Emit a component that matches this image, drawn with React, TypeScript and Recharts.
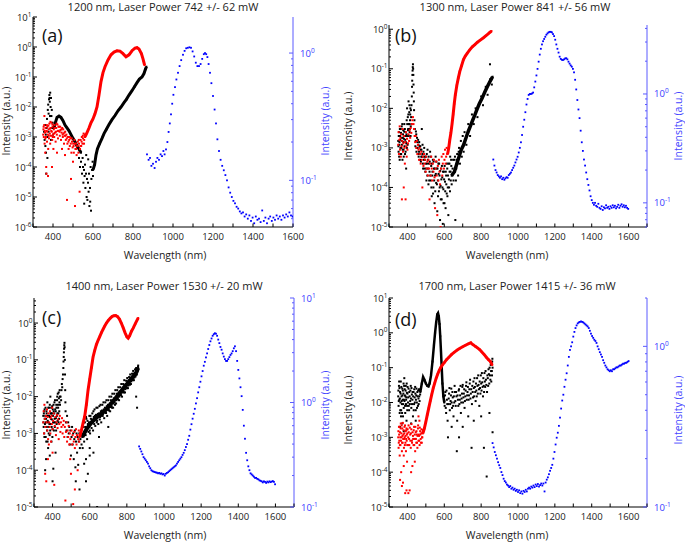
import React from 'react';
import { ScatterChart, Scatter, XAxis, YAxis } from 'recharts';

type Pt = [number, number];

// ---------- panel (a) 1200 nm ----------
const aBlackNoise: Pt[] = [
  [355,1.5e-3],[358,8e-4],[360,2.5e-3],[362,5e-4],[364,1.2e-3],[366,6e-5],[368,2e-3],[370,4e-3],[372,1e-3],[374,8e-3],
  [376,1.2e-2],[378,6e-3],[380,1.8e-2],[382,2.5e-2],[384,1.5e-2],[386,3e-2],[388,1e-2],[390,2e-2],[392,5e-3],[394,8e-3],
  [396,2e-3],[398,3e-3],[400,1.2e-3],[402,2e-3],[365,3e-4],[372,2e-4],[385,5e-3],[390,8e-4],[378,1.5e-3],[383,2e-2],
  [530,2e-4],[535,1e-4],[540,1.5e-4],[545,6e-5],[548,2e-4],[550,1e-4],[552,3e-5],[555,8e-5],[558,5e-5],[560,1.2e-4],
  [562,2e-5],[565,6e-5],[568,1e-5],[570,4e-5],[572,8e-6],[575,3e-5],[578,1.5e-5],[580,6e-5],[582,5e-6],[585,2e-5],
  [588,1e-4],[590,3.5e-6],[592,4e-5],[595,8e-5],[598,1.5e-4],[600,5e-5],[556,6e-6],[566,2.5e-4],[576,1.8e-4],[586,7e-6],
];
const aBlackCurve: Pt[] = [
  [405,2e-3],[412,3e-3],[420,4.5e-3],[430,5e-3],[440,4.5e-3],[450,3.5e-3],[460,2.5e-3],[470,2e-3],[480,1.6e-3],[490,1.2e-3],
  [500,9e-4],[510,7e-4],[520,5e-4],[530,4e-4],[540,3e-4],
];
const aBlackRise: Pt[] = [
  [600,8e-5],[608,1.2e-4],[615,2.5e-4],[622,4e-4],[633,6e-4],[645,9e-4],[655,1.3e-3],[667,1.8e-3],[680,2.6e-3],[695,3.8e-3],
  [710,5.2e-3],[725,7.5e-3],[740,1e-2],[755,1.4e-2],[767,1.8e-2],[780,2.5e-2],[795,3.5e-2],[808,4.8e-2],[820,6.5e-2],[832,8.5e-2],
  [845,0.1],[855,0.13],[862,0.18],[867,0.22],
];
const aRedNoise: Pt[] = [
  [352,1.8e-3],[354,1e-3],[356,2.5e-3],[357,5e-3],[358,6e-4],[360,1.4e-3],[361,3e-4],[363,2e-3],[365,1e-3],[366,1e-4],
  [368,1.6e-3],[370,7e-4],[372,2.2e-3],[374,1.2e-3],[376,4e-4],[378,1.8e-3],[380,9e-4],[382,2.8e-3],[384,1.3e-3],[386,6e-4],
  [388,2e-3],[390,1.1e-3],[392,3e-3],[394,1.5e-3],[396,8e-4],[398,2.2e-3],[400,1.2e-3],[402,4e-4],[404,1.8e-3],[406,1e-3],
  [408,2.5e-3],[410,1.4e-3],[413,7e-4],[416,2e-3],[419,1.2e-3],[422,2.6e-3],[425,9e-4],[428,1.6e-3],[431,2.2e-3],[434,1.1e-3],
  [437,1.7e-3],[440,8e-4],[443,1.4e-3],[446,2e-3],[449,1e-3],[452,1.3e-3],[455,6e-4],[458,1.1e-3],[461,1.5e-3],[464,8e-4],
  [467,1.2e-3],[470,8e-6],[472,6e-4],[475,1e-3],[478,4e-4],[481,8e-4],[484,5e-4],[487,9e-4],[490,4e-5],[492,3e-4],
  [495,7e-4],[498,4.5e-4],[501,6e-4],[504,3e-4],[507,8e-4],[510,5e-6],[512,4e-4],[515,6e-4],[518,2.5e-4],[521,5e-4],
  [524,7e-4],[527,3e-4],[530,6e-4],[533,1.5e-5],[535,4e-4],[538,8e-4],[541,5e-4],[544,1e-3],[547,6e-4],[550,9e-4],
  [553,1.3e-3],[556,8e-4],[559,1.2e-3],[375,5e-5],[395,1e-4],[420,3e-4],[445,4e-4],[460,2.5e-4],[500,1.5e-4],[367,6e-5],
  [351,1.2e-3],[353,2.2e-3],[359,1.6e-3],[362,9e-4],[369,2.5e-3],[371,1.5e-3],[377,2.4e-3],[379,1.1e-3],[385,1.9e-3],[387,3.2e-3],
  [391,1.6e-3],[397,2.6e-3],[399,1e-3],[405,1.3e-3],[409,2e-3],[415,1.5e-3],[418,2.8e-3],[424,1.6e-3],[427,2.2e-3],[433,1.5e-3],
  [436,2.2e-3],[442,1.8e-3],[448,1.2e-3],[451,1.8e-3],[457,1.4e-3],[463,1.1e-3],[469,9e-4],[477,7e-4],[483,1e-3],[489,6e-4],
  [494,9e-4],[503,5e-4],[509,6e-4],[516,4e-4],[523,5e-4],[529,8e-4],[537,5e-4],[543,7e-4],[549,1.1e-3],[555,6e-4],
];
const aRedCurve: Pt[] = [
  [560,1e-3],[570,1.4e-3],[580,2e-3],[590,3e-3],[600,4e-3],[610,6e-3],[620,1e-2],[630,2.5e-2],[640,7e-2],[650,0.14],
  [660,0.22],[675,0.37],[690,0.55],[705,0.68],[720,0.75],[735,0.73],[750,0.6],[765,0.47],[780,0.55],[795,0.75],
  [810,0.92],[820,0.95],[830,0.85],[842,0.6],[850,0.4],[858,0.25],
];
const aBlue: Pt[] = [
  [870,0.16],[878,0.145],[885,0.15],[892,0.13],[900,0.135],[908,0.125],[915,0.14],[922,0.15],[930,0.145],[938,0.16],
  [945,0.155],[952,0.17],[958,0.16],[965,0.175],[972,0.2],[978,0.24],[984,0.28],[990,0.33],[996,0.4],[1002,0.47],
  [1010,0.54],[1017,0.62],[1025,0.7],[1033,0.79],[1041,0.88],[1050,0.97],[1058,1.04],[1066,1.09],[1074,1.1],[1082,1.11],
  [1090,1.1],[1098,1.03],[1106,0.94],[1114,0.84],[1122,0.79],[1130,0.79],[1138,0.82],[1146,0.9],[1154,0.98],[1160,1.0],
  [1166,0.98],[1172,0.93],[1178,0.82],[1185,0.7],[1192,0.58],[1200,0.46],[1208,0.36],[1215,0.28],[1222,0.21],[1230,0.17],
  [1238,0.145],[1246,0.13],[1254,0.12],[1262,0.11],[1270,0.1],[1278,0.088],[1286,0.08],[1294,0.074],[1302,0.069],[1310,0.066],
  [1318,0.062],[1326,0.06],[1334,0.057],[1342,0.055],[1350,0.056],[1358,0.052],[1366,0.054],[1374,0.05],[1382,0.053],[1390,0.048],
  [1398,0.051],[1406,0.046],[1414,0.052],[1422,0.049],[1430,0.05],[1438,0.047],[1446,0.058],[1454,0.048],[1462,0.051],[1470,0.046],
  [1478,0.05],[1486,0.052],[1494,0.048],[1502,0.051],[1510,0.049],[1518,0.053],[1526,0.05],[1534,0.052],[1542,0.049],[1550,0.053],
  [1558,0.051],[1566,0.054],[1574,0.052],[1582,0.056],[1590,0.053],[1598,0.052],
];

// ---------- panel (b) 1300 nm ----------
const bBlackNoise: Pt[] = [
  [350,1.5e-3],[352,8e-4],[354,2.5e-3],[356,1.2e-3],[358,5e-4],[360,2e-3],[362,1e-3],[364,3e-3],[366,7e-4],[368,1.8e-3],
  [370,1.2e-3],[372,4e-3],[374,9e-4],[376,2.2e-3],[378,1.4e-3],[380,6e-4],[382,2.6e-3],[384,1.1e-3],[386,3e-3],[388,1.6e-3],
  [390,8e-4],[392,2e-3],[394,1.3e-3],[396,5e-3],[398,1e-2],[400,2e-3],[402,6e-3],[404,3e-3],[406,1.5e-2],[408,4e-3],
  [410,8e-3],[412,2.5e-3],[414,5e-3],[416,1e-2],[418,3.5e-3],[420,6e-3],[422,1.2e-2],
  [424,2e-2],[425,3.5e-2],[426,5e-2],[427,7e-2],[428,9e-2],[429,0.11],[430,0.13],[431,0.1],[432,7e-2],[433,4e-2],
  [434,2.5e-2],[435,1.5e-2],[436,9e-3],[438,5e-3],[440,3e-3],
  [442,2e-3],[445,1.5e-3],[448,2.2e-3],[451,1e-3],[454,1.4e-3],[457,7e-4],[460,1.2e-3],[463,8e-4],[466,1.1e-3],[469,5e-4],
  [472,9e-4],[475,6e-4],[478,3e-3],[481,7e-4],[484,4e-4],[487,8e-4],[490,5e-4],[493,3e-4],[496,6e-4],[499,4e-4],
  [502,3e-4],[505,7e-4],[508,2e-4],[511,5e-4],[514,1.2e-4],[517,4e-4],[520,2.5e-4],[523,8e-4],[526,1.5e-4],[529,3.5e-4],
  [532,6e-5],[535,2e-4],[538,5e-4],[541,1e-4],[544,3e-4],[547,4e-5],[550,2e-4],[553,6e-4],[556,1.3e-4],[559,3e-4],
  [562,2.5e-5],[565,1.5e-4],[568,4e-4],[571,8e-5],[574,2e-4],[577,1.5e-5],[580,1.1e-4],[583,3e-4],[586,5e-5],[589,1.8e-4],
  [592,1.2e-5],[595,9e-5],[598,2.5e-4],[601,4e-5],[604,1.4e-4],[607,3e-5],[610,2e-4],[613,7e-5],[616,3e-4],[619,1e-4],
  [622,2e-5],[625,1.6e-4],[628,4e-4],[631,8e-5],[634,2.5e-4],[637,5e-4],[640,1.2e-4],[645,3e-4],[650,1.5e-4],[655,5e-4],
  [660,1.5e-5],[665,3e-4],[670,7e-4],[675,2e-4],[680,1e-3],[685,4e-4],[690,1.5e-3],[695,6e-4],[700,2e-3],[705,8e-4],
  [710,2.5e-3],[720,1.2e-3],[730,4e-3],[740,2e-3],[750,7e-3],[760,4e-3],[770,1e-2],[780,6e-3],[800,2e-2],[810,1.2e-2],
  [825,3.5e-2],[835,2.2e-2],[848,0.13],[850,5.5e-2],[858,4e-2],
  [351,1.1e-3],[353,2e-3],[355,6e-4],[357,1.4e-3],[359,3e-3],[361,1.6e-3],[363,7e-4],[365,2.4e-3],[367,1e-3],[369,3.5e-3],
  [371,1.5e-3],[373,5e-4],[375,1.8e-3],[377,2.8e-3],[379,9e-4],[381,1.7e-3],[383,4e-3],[385,2e-3],[387,7e-4],[389,2.5e-3],
  [391,1.4e-3],[393,3e-4],[395,2.2e-3],[397,1e-3],[399,4e-3],[401,1.2e-3],[403,2.8e-3],[405,7e-3],[407,2e-3],[409,4e-3],
  [411,1.2e-2],[413,3e-3],[415,7e-3],[417,2e-3],[419,9e-3],[421,4e-3],
  [443,1.1e-3],[446,2.6e-3],[449,8e-4],[452,1.8e-3],[455,1e-3],[458,1.6e-3],[461,6e-4],[464,1.4e-3],[467,7e-4],[470,1.1e-3],
  [473,4.5e-4],[476,9e-4],[479,6e-4],[482,1.2e-3],[485,3e-4],[488,6e-4],[491,1e-3],[494,5e-4],[497,2.5e-4],[500,6e-4],
  [503,1.5e-4],[506,4e-4],[509,9e-4],[512,3e-4],[515,6e-4],[518,1.5e-4],[521,4.5e-4],[524,2e-4],[527,6e-4],[530,1e-4],
  [533,4e-4],[536,2.5e-4],[539,7e-5],[542,4.5e-4],[545,1.5e-4],[548,3e-4],[551,8e-5],[554,2.2e-4],[557,4.5e-4],[560,1.2e-4],
  [563,3e-4],[566,6e-5],[569,2.2e-4],[572,4e-4],[575,1e-4],[578,2.6e-4],[581,5e-5],[584,1.6e-4],[587,3.5e-4],[590,1e-4],
  [593,2.5e-4],[596,4e-5],[599,1.6e-4],[602,3.5e-4],[605,8e-5],[608,2.5e-4],[611,1.2e-4],[614,4e-4],[617,6e-5],[620,2e-4],
  [623,4e-4],[626,1e-4],[629,2.5e-4],[632,6e-4],[635,1.5e-4],[638,3.5e-4],[643,2e-4],[648,5e-4],[653,2.5e-4],[658,6e-4],
  [663,1.5e-4],[668,5e-4],[673,4e-4],[678,8e-4],
];
const bBlackCurve: Pt[] = [
  [640,2e-4],[655,2.5e-4],[668,4e-4],[680,6e-4],[692,9e-4],[705,1.2e-3],[718,1.8e-3],[730,2.6e-3],[742,3.6e-3],[754,5e-3],
  [766,6.8e-3],[778,9.5e-3],[790,1.3e-2],[805,1.8e-2],[820,2.6e-2],[832,3.4e-2],[845,4.5e-2],[855,5.5e-2],[862,6.3e-2],
];
const bRedNoise: Pt[] = [
  [350,1.2e-3],[352,2.5e-3],[354,7e-4],[356,1.6e-3],[358,3.5e-3],[360,9e-4],[362,1.8e-3],[364,6e-4],[366,2.2e-3],[368,1.1e-3],
  [370,5e-5],[372,1.5e-3],[374,3e-3],[376,8e-4],[378,1.3e-3],[380,1e-4],[382,2e-3],[384,1e-3],[386,4e-4],[388,1.4e-3],
  [390,5e-5],[392,2.5e-3],[394,1.1e-3],[396,6e-4],[398,1.7e-3],[400,9e-4],[403,1.3e-3],[406,2.2e-3],[409,1.5e-3],[412,2.8e-3],
  [415,1.8e-3],[418,3.2e-3],[421,2.4e-3],[424,4e-3],[427,5e-3],[430,6e-3],[433,4e-3],[436,3e-3],[439,2e-3],[442,1.4e-3],
  [445,2e-3],[448,1e-3],[451,1.5e-3],[454,7e-4],[457,1.2e-3],[460,9e-4],[463,5e-4],[466,1e-3],[469,7e-4],[472,4e-4],
  [475,8e-4],[478,5e-4],[481,1e-4],[484,6e-4],[487,3.5e-4],[490,7e-4],[493,4e-4],[496,5e-4],[499,2.5e-4],[502,6e-4],
  [505,3e-4],[508,4.5e-4],[511,2e-4],[514,5e-4],[517,3e-4],[520,5e-5],[523,4e-4],[526,2e-4],[529,6e-4],[532,3e-4],
  [535,1.5e-4],[538,4e-4],[541,2.5e-4],[544,5e-4],[547,1.8e-4],[550,3e-5],[553,3e-4],[556,4.5e-4],[559,2e-4],[562,2e-5],
  [565,3.5e-4],[568,1.5e-4],[571,5e-4],[574,2.5e-4],[577,1.2e-4],[580,1e-5],[583,3e-4],[586,6e-4],[589,2e-4],[592,4e-4],
  [595,7e-4],[598,3e-4],[601,5e-4],[604,9e-4],[607,4e-4],[610,6e-4],[613,1e-3],[616,7e-4],
];
const bRedCurve: Pt[] = [
  [618,7e-4],[624,1e-3],[630,1.6e-3],[636,2.4e-3],[642,4e-3],[648,7e-3],[654,1.3e-2],[660,2.2e-2],[668,3.8e-2],[676,5.8e-2],
  [684,8.5e-2],[694,0.12],[704,0.17],[714,0.21],[725,0.25],[738,0.3],[752,0.36],[766,0.41],[780,0.47],[795,0.53],
  [811,0.6],[825,0.68],[838,0.76],[848,0.84],[856,0.9],
];
const bBlue: Pt[] = [
  [866,0.25],[872,0.22],[878,0.2],[884,0.19],[890,0.18],[896,0.175],[902,0.17],[908,0.175],[914,0.165],[920,0.17],
  [926,0.163],[932,0.168],[938,0.172],[944,0.17],[950,0.18],[956,0.185],[962,0.19],[968,0.2],[974,0.21],[980,0.22],
  [986,0.235],[992,0.25],[998,0.265],[1004,0.29],[1010,0.32],[1016,0.36],[1022,0.42],[1028,0.5],[1034,0.58],[1040,0.68],
  [1046,0.8],[1052,0.9],[1058,0.98],[1064,1.0],[1070,1.0],[1076,1.01],[1082,1.03],[1088,1.15],[1094,1.3],[1100,1.48],
  [1106,1.7],[1112,1.98],[1118,2.3],[1124,2.6],[1130,2.85],[1136,3.05],[1142,3.2],[1148,3.35],[1154,3.5],[1160,3.6],
  [1166,3.68],[1172,3.72],[1178,3.72],[1184,3.68],[1190,3.55],[1196,3.4],[1202,3.15],[1208,2.85],[1214,2.6],[1220,2.4],
  [1226,2.2],[1232,2.1],[1238,2.06],[1244,2.05],[1250,2.08],[1256,2.12],[1262,2.13],[1268,2.08],[1274,1.98],[1280,1.9],
  [1286,1.83],[1292,1.78],[1298,1.7],[1304,1.58],[1310,1.35],[1316,1.1],[1322,0.88],[1328,0.72],[1334,0.6],[1340,0.46],
  [1346,0.36],[1352,0.3],[1358,0.25],[1364,0.22],[1370,0.19],[1376,0.165],[1382,0.146],[1388,0.13],[1394,0.115],[1400,0.106],
  [1406,0.1],[1412,0.096],[1418,0.1],[1424,0.094],[1430,0.092],[1436,0.098],[1442,0.09],[1448,0.088],[1454,0.093],[1460,0.086],
  [1466,0.091],[1472,0.089],[1478,0.095],[1484,0.09],[1490,0.092],[1496,0.088],[1502,0.093],[1508,0.09],[1514,0.095],[1520,0.091],
  [1526,0.094],[1532,0.089],[1538,0.092],[1544,0.096],[1550,0.09],[1556,0.094],[1562,0.097],[1568,0.092],[1574,0.095],[1580,0.091],
  [1586,0.094],[1592,0.09],[1598,0.088],
];

// ---------- panel (c) 1400 nm ----------
const cBlackNoise: Pt[] = [
  [350,3e-3],[352,1.5e-3],[354,4e-3],[356,8e-4],[358,2.5e-3],[360,1e-4],[362,5e-3],[364,2e-3],[366,6e-4],[368,3.5e-3],
  [370,1.2e-3],[372,7e-3],[374,2.2e-3],[376,4e-4],[378,3e-3],[380,1.5e-3],[382,5e-3],[384,9e-4],[386,2.8e-3],[388,1e-2],
  [390,1.8e-3],[392,3.5e-3],[394,6e-4],[396,2.4e-3],[398,5.5e-3],[400,1.3e-3],[402,3e-3],[404,1.1e-4],[406,4e-3],[408,2e-3],
  [410,7e-3],[412,1.5e-3],[414,4.5e-3],[416,3e-4],[418,2.6e-3],[420,6e-3],[422,1.8e-3],[424,8e-3],[426,3.5e-3],[428,1.2e-2],
  [430,5e-3],[432,2e-3],[434,9e-3],[436,4e-3],[438,1.5e-2],[400,5e-5],[365,2e-4],[385,2.5e-4],
  [440,6e-3],[443,1e-2],[446,8e-3],[448,1.5e-2],[450,2.2e-2],[452,1.8e-2],[454,3e-2],[456,4e-2],[458,6e-2],[459,9e-2],
  [460,0.12],[461,0.16],[462,0.2],[463,0.25],[464,0.29],[465,0.22],[466,0.1],[467,4e-2],[468,1.5e-2],[469,7e-3],[470,4e-3],
  [472,2e-3],[475,1.2e-3],[478,3e-3],[481,8e-4],[484,2e-3],[487,1e-3],[490,1.5e-3],[493,5e-4],[496,1.2e-3],[499,2.5e-4],
  [502,8e-4],[505,1.5e-3],[508,5e-4],[511,1e-3],[514,2e-4],[517,7e-4],[520,1.2e-3],[523,1.2e-4],[526,6e-4],[529,1e-3],
  [532,3e-4],[535,8e-4],[538,1.4e-4],[541,6e-4],[544,1e-3],[547,4e-4],[550,7e-4],[553,1.1e-3],[556,5e-4],[559,9e-4],
  [525,5e-5],[545,3e-5],[640,1e-5],[580,5e-5],[570,1.5e-4],[590,8e-5],[600,2.5e-4],
  [351,2e-3],[353,3.5e-3],[355,1e-3],[357,4.5e-3],[359,1.8e-3],[361,3e-3],[363,8e-4],[365,2.5e-3],[367,4e-3],[369,1.5e-3],
  [371,3e-3],[373,6e-4],[375,2e-3],[377,5e-3],[379,1e-3],[381,3e-3],[383,1.8e-3],[385,6e-3],[387,1.2e-3],[389,3.5e-3],
  [391,2.5e-3],[393,5e-3],[395,1.5e-3],[397,3.5e-3],[399,8e-4],[401,4.5e-3],[403,2e-3],[405,6e-3],[407,1.2e-3],[409,3.5e-3],
  [411,2.5e-3],[413,8e-3],[415,2e-3],[417,4e-3],[419,1.2e-3],[421,5e-3],[423,3e-3],[425,1e-2],[427,2.2e-3],[429,6e-3],
  [431,3.5e-3],[433,1.3e-2],[435,2.5e-3],[437,7e-3],[439,1e-2],
  [562,4e-4],[566,1.5e-3],[570,6e-4],[574,2e-3],[578,9e-4],[582,2.5e-3],[586,7e-4],[590,1.8e-3],[594,1.1e-3],[598,3e-3],
  [602,1e-3],[606,2.5e-3],[610,1.4e-3],[614,3.5e-3],[618,1.2e-3],[622,2.8e-3],[626,4.5e-3],[630,1.6e-3],[634,3.2e-3],[638,2e-3],
  [642,5e-3],[646,1.8e-3],[650,3.5e-3],[654,2.4e-3],[658,6e-3],[662,2e-3],[666,4.2e-3],[670,3e-3],[674,7e-3],[678,2.6e-3],
  [682,5e-3],[686,3.6e-3],[690,8e-3],[694,3e-3],[698,6e-3],[702,4.5e-3],[706,1e-2],[710,4e-3],[714,8e-3],[718,5.5e-3],
  [722,1.2e-2],[726,5e-3],[730,9e-3],[734,7e-3],[738,1.5e-2],[742,6.5e-3],[746,1.2e-2],[750,9e-3],[754,1.8e-2],[758,8e-3],
  [762,1.4e-2],[766,1.1e-2],[770,2.2e-2],[774,1e-2],[778,1.7e-2],[782,1.4e-2],[786,2.8e-2],[790,1.3e-2],[794,2.2e-2],[798,1.8e-2],
  [802,3.2e-2],[806,1.7e-2],[810,2.8e-2],[814,2.3e-2],[818,4e-2],[822,2.2e-2],[826,3.5e-2],[830,3e-2],[834,5e-2],[838,2.8e-2],
  [842,4.2e-2],[846,3.5e-2],[850,6e-2],[854,4e-2],[858,5e-2],[861,7e-2],[855,5e-3],[850,1e-2],[620,3e-4],[650,8e-4],
  [600,4e-4],[580,2e-4],[700,1.5e-3],
  [564,9e-4],[568,2e-3],[572,1.1e-3],[576,1.5e-3],[580,2.8e-3],[584,1.2e-3],[588,2.2e-3],[592,1.5e-3],[596,2e-3],[600,1.2e-3],
  [604,3e-3],[608,1.8e-3],[612,2.4e-3],[616,2.2e-3],[620,4e-3],[624,1.8e-3],[628,3e-3],[632,2.4e-3],[636,5e-3],[640,2.2e-3],
  [644,3.4e-3],[648,2.8e-3],[652,5.5e-3],[656,2.8e-3],[660,4e-3],[664,3e-3],[668,6e-3],[672,3.4e-3],[676,4.5e-3],[680,3.8e-3],
  [684,7e-3],[688,3.6e-3],[692,5.5e-3],[696,4.6e-3],[700,8e-3],[704,4.2e-3],[708,6.5e-3],[712,5.2e-3],[716,1e-2],[720,5e-3],
  [724,8e-3],[728,6.5e-3],[732,1.2e-2],[736,6e-3],[740,1e-2],[744,8e-3],[748,1.5e-2],[752,8.5e-3],[756,1.3e-2],[760,1e-2],
  [764,1.8e-2],[768,1.1e-2],[772,1.5e-2],[776,1.3e-2],[780,2.2e-2],[784,1.3e-2],[788,2e-2],[792,1.6e-2],[796,2.7e-2],[800,1.7e-2],
  [804,2.6e-2],[808,2e-2],[812,3.4e-2],[816,2.1e-2],[820,3.2e-2],[824,2.6e-2],[828,4.2e-2],[832,2.8e-2],[836,4.2e-2],[840,3.3e-2],
  [844,5.5e-2],[848,3.8e-2],[852,5.5e-2],[856,4.6e-2],[860,6.5e-2],
];
const cBlackCurve: Pt[] = [
  [560,8e-4],[582,1.3e-3],[610,2e-3],[640,2.8e-3],[665,3.5e-3],[690,4.5e-3],[715,6.5e-3],[740,9e-3],[762,1.25e-2],[785,1.8e-2],
  [810,2.5e-2],[834,3.5e-2],[850,4.5e-2],[861,6e-2],
];
const cRedNoise: Pt[] = [
  [350,2e-3],[352,4e-3],[354,1e-3],[356,6e-3],[358,2.5e-3],[360,8e-5],[362,1.5e-3],[364,3e-3],[366,5e-5],[368,2e-3],
  [370,4.5e-3],[372,1.2e-3],[374,2.8e-3],[376,7e-4],[378,3.5e-3],[380,5e-4],[382,2e-3],[384,1.5e-3],[386,4e-3],[388,1e-3],
  [390,2.6e-3],[392,6e-4],[394,3e-3],[396,1.8e-3],[398,5e-3],[400,1.3e-3],[403,2.2e-3],[406,3.5e-3],[409,4e-5],[412,1.6e-3],
  [415,2.8e-3],[418,9e-4],[421,2e-3],[424,3.2e-3],[427,1.4e-3],[430,2.4e-3],[433,7e-4],[436,1.8e-3],[439,3e-3],[442,1.1e-3],
  [445,2e-3],[448,1.5e-3],[451,2.6e-3],[454,1e-3],[457,1.7e-3],[460,2.2e-3],[463,8e-4],[466,1.5e-3],[469,1.5e-5],[472,1.1e-3],
  [475,2e-3],[478,6e-4],[481,1.2e-3],[484,8e-4],[487,1.6e-3],[490,5e-4],[493,1e-3],[496,7e-4],[499,8e-5],[502,1.2e-3],
  [505,5e-4],[508,9e-4],[511,1.2e-5],[514,6e-4],[517,1.1e-3],[520,4e-4],[523,8e-4],[526,1.3e-3],[529,5e-4],[532,9e-4],
  [535,1e-4],[538,7e-4],[541,1.2e-3],[544,6e-4],[547,9e-4],[520,3e-5],[495,2e-4],[375,2e-4],[400,3e-4],
];
const cRedCurve: Pt[] = [
  [546,8e-4],[555,1.2e-3],[565,2e-3],[573,2.9e-3],[582,6e-3],[591,1.5e-2],[600,3e-2],[609,6e-2],[618,0.12],[627,0.18],
  [636,0.26],[645,0.34],[654,0.43],[663,0.55],[672,0.68],[681,0.83],[690,1.0],[700,1.18],[710,1.35],[720,1.5],
  [730,1.58],[740,1.6],[750,1.5],[760,1.28],[770,1.0],[780,0.75],[790,0.55],[800,0.42],[807,0.39],[815,0.45],
  [825,0.6],[834,0.73],[845,0.95],[855,1.2],[861,1.37],
];
const cBlue: Pt[] = [
  [866,0.38],[872,0.36],[878,0.34],[884,0.32],[890,0.3],[896,0.29],[902,0.28],[908,0.27],[914,0.26],[920,0.245],
  [926,0.235],[932,0.225],[938,0.22],[944,0.218],[950,0.216],[956,0.214],[962,0.213],[968,0.21],[974,0.212],[980,0.208],
  [986,0.21],[992,0.205],[998,0.207],[1004,0.2],[1010,0.208],[1016,0.212],[1022,0.215],[1028,0.22],[1034,0.225],[1040,0.23],
  [1046,0.235],[1052,0.24],[1058,0.245],[1064,0.25],[1070,0.26],[1076,0.27],[1082,0.28],[1088,0.29],[1094,0.3],[1100,0.315],
  [1106,0.33],[1112,0.35],[1118,0.375],[1124,0.4],[1130,0.44],[1136,0.48],[1142,0.55],[1148,0.62],[1154,0.7],[1160,0.78],
  [1166,0.87],[1172,0.98],[1178,1.1],[1184,1.25],[1190,1.4],[1196,1.58],[1202,1.78],[1208,2.0],[1214,2.25],[1220,2.45],
  [1226,2.7],[1232,2.95],[1238,3.25],[1244,3.55],[1250,3.85],[1256,4.1],[1262,4.35],[1268,4.5],[1274,4.6],[1280,4.55],
  [1286,4.35],[1292,4.0],[1298,3.7],[1304,3.4],[1310,3.2],[1316,2.95],[1322,2.75],[1328,2.6],[1334,2.5],[1340,2.5],
  [1346,2.6],[1352,2.72],[1358,2.85],[1364,2.95],[1370,3.1],[1376,3.3],[1382,3.45],[1388,3.1],[1394,2.5],[1400,2.05],
  [1406,1.7],[1412,1.4],[1418,1.15],[1424,0.85],[1430,0.6],[1436,0.45],[1442,0.33],[1448,0.28],[1454,0.245],[1460,0.225],
  [1466,0.21],[1472,0.205],[1478,0.2],[1484,0.195],[1490,0.19],[1496,0.19],[1502,0.186],[1508,0.184],[1514,0.18],[1520,0.178],
  [1526,0.176],[1532,0.172],[1538,0.176],[1544,0.174],[1550,0.17],[1556,0.175],[1562,0.172],[1568,0.176],[1574,0.173],[1580,0.175],
  [1586,0.177],[1592,0.174],[1598,0.165],
];

// ---------- panel (d) 1700 nm ----------
const dBlackNoise: Pt[] = [
  [350,1.5e-2],[352,8e-3],[354,3e-2],[356,1.2e-2],[358,5e-3],[360,2e-2],[362,1e-2],[364,4e-2],[366,6e-3],[368,1.5e-2],
  [370,9e-3],[372,2.5e-2],[374,1.2e-2],[376,4e-3],[378,1.8e-2],[380,7e-3],[382,3e-2],[384,1.1e-2],[386,1.6e-2],[388,5e-3],
  [390,2.2e-2],[392,9e-3],[394,1.4e-2],[396,3.5e-2],[398,8e-3],[400,1.8e-2],[403,1e-2],[406,2.5e-2],[409,6e-3],[412,1.5e-2],
  [415,1.1e-2],[418,3e-2],[421,7e-3],[424,1.7e-2],[427,1.2e-2],[430,4e-3],[433,2e-2],[436,9e-3],[439,1.4e-2],[442,2.8e-2],
  [445,6e-3],[448,1.6e-2],[451,1e-2],[454,2e-2],[457,8e-3],[460,1.3e-2],[463,2.4e-2],[466,1.1e-2],[469,1.7e-2],[360,2e-3],
  [365,4e-3],[372,2.5e-3],[380,1.5e-3],[395,3e-3],[420,2.5e-3],[445,3e-3],[355,4e-2],[383,5e-2],
  [351,2.2e-2],[353,1.1e-2],[357,2.6e-2],[359,1.3e-2],[361,6e-3],[363,1.8e-2],[367,2.8e-2],[369,1.1e-2],[371,5e-3],[373,1.6e-2],
  [375,2.2e-2],[377,9e-3],[379,3.5e-2],[381,1.2e-2],[385,2.4e-2],[387,8e-3],[389,1.5e-2],[391,3e-2],[393,1.2e-2],[397,1.9e-2],
  [399,6e-3],[401,2.8e-2],[404,1.4e-2],[407,8e-3],[410,2e-2],[413,9e-3],[416,2.2e-2],[419,1.3e-2],[422,2.6e-2],[425,9e-3],
  [428,2e-2],[431,1.5e-2],[434,6e-3],[437,2.4e-2],[440,1e-2],[443,1.8e-2],[446,1.2e-2],[449,2.5e-2],[452,7e-3],[455,1.5e-2],
  [458,2.2e-2],[461,9e-3],[464,1.5e-2],[467,2.2e-2],
  [598,1.5e-2],[602,8e-3],[606,2e-2],[610,5e-3],[614,1.2e-2],[618,3e-3],[620,1e-3],[622,9e-3],[626,1.8e-2],[630,6e-3],
  [634,1.1e-2],[638,2.5e-2],[642,7e-3],[646,1.4e-2],[650,4e-3],[654,1e-2],[658,2e-2],[662,8e-3],[666,1.5e-2],[668,4e-4],
  [670,3e-3],[674,1.2e-2],[678,2.2e-2],[682,9e-3],[686,1.6e-2],[690,5e-3],[694,1.3e-2],[698,2.8e-2],[702,1e-2],[706,1.8e-2],
  [710,7e-3],[714,1.5e-2],[718,3e-2],[722,1.2e-2],[726,2e-2],[730,4e-3],[734,1.6e-2],[738,3.5e-2],[742,1.3e-2],[746,2.4e-2],
  [748,5e-4],[750,9e-3],[754,2e-2],[758,4e-2],[762,1.5e-2],[766,2.8e-2],[770,1.1e-2],[774,2.2e-2],[778,5e-2],[782,1.8e-2],
  [786,3.2e-2],[790,8e-3],[794,2.6e-2],[798,6e-2],[802,2.2e-2],[806,3.8e-2],[810,1.5e-2],[814,3e-2],[815,5e-4],[818,7e-2],
  [822,2.8e-2],[826,4.5e-2],[830,7.5e-5],[832,2e-2],[836,5e-2],[840,9e-2],[844,3.5e-2],[848,6e-2],[852,0.12],[855,4e-2],
  [858,8e-2],[860,0.15],[862,1.4e-3],[862,0.1],[640,2e-3],[700,2e-3],[760,3e-3],[680,1e-3],[800,4e-3],[845,5e-3],
  [600,1.1e-2],[604,1.6e-2],[608,7e-3],[612,2.2e-2],[616,9e-3],[624,1.3e-2],[628,2.6e-2],[632,9e-3],[636,1.6e-2],[640,1e-2],
  [644,2e-2],[648,8e-3],[652,1.5e-2],[656,3e-2],[660,1.1e-2],[664,2e-2],[672,1.6e-2],[676,8e-3],[680,2.4e-2],[684,1.2e-2],
  [688,3e-2],[692,1e-2],[696,1.8e-2],[700,3.2e-2],[704,1.4e-2],[708,2.4e-2],[712,1.1e-2],[716,2.2e-2],[720,3.8e-2],[724,1.6e-2],
  [728,2.8e-2],[732,1.2e-2],[736,2.4e-2],[740,4.5e-2],[744,1.8e-2],[752,3e-2],[756,1.4e-2],[760,2.6e-2],[764,5e-2],[768,2e-2],
  [772,3.5e-2],[776,1.5e-2],[780,3e-2],[784,6e-2],[788,2.4e-2],[792,4e-2],[796,1.8e-2],[800,3.5e-2],[804,7e-2],[808,2.8e-2],
  [812,5e-2],[816,2e-2],[820,4e-2],[824,8e-2],[828,3.2e-2],[834,6e-2],[838,3e-2],[842,6.5e-2],[846,0.1],[850,4.5e-2],
  [854,8e-2],[856,0.14],[859,6e-2],[861,0.18],
];
const dBlackCurve: Pt[] = [
  [470,2e-2],[478,3.5e-2],[485,5.4e-2],[492,4.5e-2],[500,3.5e-2],[508,3e-2],[514,2.9e-2],[520,3.5e-2],[528,6e-2],[536,0.15],
  [544,0.45],[550,1.0],[556,2.0],[562,3.4],[566,3.7],[570,3.0],[574,1.8],[578,0.8],[582,0.3],[586,0.1],[590,3.5e-2],
  [595,1.5e-2],[600,1e-2],
];
const dRedNoise: Pt[] = [
  [350,1e-3],[352,5e-4],[354,2e-3],[356,8e-4],[358,3e-4],[360,1.4e-3],[362,6e-4],[364,2.5e-3],[366,1e-4],[368,1e-3],
  [370,4e-4],[372,1.8e-3],[374,7e-4],[376,5e-5],[378,1.2e-3],[380,3e-4],[382,9e-4],[384,2e-3],[386,6e-4],[388,2.5e-5],
  [390,1.1e-3],[392,4e-4],[394,1.6e-3],[396,8e-4],[398,2e-4],[400,1.3e-3],[403,6e-4],[406,2.2e-3],[409,9e-4],[412,3e-5],
  [415,1.2e-3],[418,5e-4],[421,1.7e-3],[424,8e-4],[427,1.5e-4],[430,1.1e-3],[433,6e-4],[436,2e-3],[439,9e-4],[442,4e-4],
  [445,1.4e-3],[448,7e-4],[451,1.2e-3],[454,5e-4],[457,1.8e-3],[460,8e-4],[463,1.1e-3],[466,6e-4],[469,1.5e-3],[472,9e-4],
  [475,1.3e-3],[478,7e-4],[481,1e-3],[484,1.6e-3],[360,6e-5],[395,3e-5],[405,2.5e-5],[420,1e-4],[380,1.5e-4],[440,2e-4],
  [370,4e-5],[460,4e-3],[465,3e-3],
  [351,1.5e-3],[353,7e-4],[355,1.2e-3],[357,2e-3],[359,6e-4],[361,1e-3],[363,1.8e-3],[365,8e-4],[367,1.3e-3],[369,2.2e-3],
  [371,7e-4],[373,1.1e-3],[375,2.6e-3],[377,9e-4],[379,1.6e-3],[381,5e-4],[383,1.3e-3],[385,1e-3],[387,2.2e-3],[389,7e-4],
  [391,1.5e-3],[393,9e-4],[395,1.8e-3],[397,1.2e-3],[399,6e-4],[401,1.7e-3],[404,1e-3],[407,1.4e-3],[410,6e-4],[413,1.9e-3],
  [416,8e-4],[419,1.3e-3],[422,2.4e-3],[425,7e-4],[428,1.4e-3],[431,9e-4],[434,1.6e-3],[437,6e-4],[440,1.2e-3],[443,2e-3],
  [446,9e-4],[449,1.5e-3],[452,7e-4],[455,1.1e-3],[458,2.2e-3],[461,1.2e-3],[464,8e-4],[467,1.9e-3],[470,1.2e-3],[473,7e-4],
  [476,1.7e-3],[479,1e-3],[482,1.4e-3],
];
const dRedCurve: Pt[] = [
  [484,1.3e-3],[492,1.8e-3],[500,2.8e-3],[508,4.5e-3],[516,7e-3],[524,1.1e-2],[532,1.7e-2],[540,2.6e-2],[548,3.6e-2],[556,5e-2],
  [564,6.5e-2],[572,8.2e-2],[580,0.1],[590,0.12],[600,0.14],[612,0.17],[625,0.2],[640,0.24],[655,0.28],[670,0.32],
  [685,0.36],[700,0.4],[715,0.44],[730,0.48],[744,0.52],[750,0.48],[758,0.45],[768,0.41],[780,0.37],[792,0.33],
  [804,0.28],[816,0.24],[828,0.2],[840,0.17],[850,0.15],[860,0.12],
];
const dBlue: Pt[] = [
  [862,0.25],[868,0.235],[874,0.22],[880,0.21],[886,0.2],[892,0.19],[898,0.182],[904,0.175],[910,0.165],[916,0.158],
  [922,0.15],[928,0.145],[934,0.142],[940,0.138],[946,0.136],[952,0.133],[958,0.135],[964,0.13],[970,0.132],[976,0.128],
  [982,0.13],[988,0.126],[994,0.128],[1000,0.124],[1006,0.127],[1012,0.122],[1018,0.125],[1024,0.121],[1030,0.126],[1036,0.124],
  [1042,0.128],[1048,0.125],[1054,0.13],[1060,0.132],[1066,0.13],[1072,0.134],[1078,0.132],[1084,0.136],[1090,0.133],[1096,0.138],
  [1102,0.135],[1108,0.139],[1114,0.134],[1120,0.137],[1126,0.14],[1132,0.136],[1138,0.14],[1144,0.125],[1150,0.142],[1156,0.148],
  [1162,0.153],[1168,0.16],[1174,0.168],[1180,0.175],[1186,0.183],[1192,0.2],[1198,0.22],[1204,0.245],[1210,0.27],[1216,0.29],
  [1222,0.32],[1228,0.36],[1234,0.41],[1240,0.46],[1246,0.5],[1252,0.56],[1258,0.62],[1264,0.68],[1270,0.76],[1276,0.86],
  [1282,0.95],[1288,1.0],[1294,1.06],[1300,1.15],[1306,1.23],[1312,1.3],[1318,1.35],[1324,1.39],[1330,1.41],[1336,1.42],
  [1342,1.43],[1348,1.42],[1354,1.41],[1360,1.39],[1366,1.37],[1372,1.35],[1378,1.33],[1384,1.3],[1390,1.25],[1396,1.2],
  [1402,1.16],[1408,1.13],[1414,1.1],[1420,1.08],[1426,1.05],[1432,1.0],[1438,0.96],[1444,0.92],[1450,0.89],[1456,0.86],
  [1462,0.82],[1468,0.79],[1474,0.76],[1480,0.74],[1486,0.72],[1492,0.71],[1498,0.7],[1504,0.71],[1510,0.7],[1516,0.72],
  [1522,0.72],[1528,0.73],[1534,0.74],[1540,0.74],[1546,0.75],[1552,0.76],[1558,0.76],[1564,0.77],[1570,0.78],[1576,0.78],
  [1582,0.79],[1588,0.79],[1594,0.8],[1600,0.81],
];

// axis ticks
const xTicksShort = [300, 400, 500, 600, 700, 800, 900, 1000, 1100, 1200, 1300, 1400, 1500, 1600];
const xTicksLong = [...xTicksShort, 1700];

const titles = [
  '1200 nm, Laser Power 742 +/- 62 mW',
  '1300 nm, Laser Power 841 +/- 56 mW',
  '1400 nm, Laser Power 1530 +/- 20 mW',
  '1700 nm, Laser Power 1415 +/- 36 mW',
];

const BLUE = '#0000ff';
const BLUE_AXIS = '#5a5aff';
const FONT = '"Open Sans", "Liberation Sans", sans-serif';

function logTicks(lo: number, hi: number) {
  const out: number[] = [];
  for (let e = Math.floor(Math.log10(lo)); e <= Math.ceil(Math.log10(hi)); e++) {
    for (let m = 1; m <= 9; m++) {
      const v = Number(`${m}e${e}`);
      if (v >= lo * 0.999 && v <= hi * 1.001) out.push(v);
    }
  }
  return out;
}

const isDecade = (v: number) => Math.abs(Math.log10(v) - Math.round(Math.log10(v))) < 1e-6;
const toXY = (pts: Pt[]) => pts.map(([x, y]) => ({ x, y }));

function Pow({ x, y, v, anchor, color }: any) {
  const e = Math.round(Math.log10(v));
  return (
    <text x={x} y={y} textAnchor={anchor} fill={color} fontSize={9.5} fontFamily={FONT}>
      10<tspan dy={-4} fontSize={6.5}>{e}</tspan>
    </text>
  );
}

const LeftTick = (p: any) => {
  const major = isDecade(p.payload.value);
  return (
    <g>
      <line x1={p.x} x2={p.x + (major ? 4 : 2)} y1={p.y} y2={p.y} stroke="#000" />
      {major && <Pow x={p.x - 1.5} y={p.y + 3.5} v={p.payload.value} anchor="end" color="#222" />}
    </g>
  );
};

const RightTick = (p: any) => {
  const major = isDecade(p.payload.value);
  return (
    <g>
      <line x1={p.x} x2={p.x - (major ? 4 : 2)} y1={p.y} y2={p.y} stroke={BLUE_AXIS} />
      {major && <Pow x={p.x + 7} y={p.y + 3.5} v={p.payload.value} anchor="start" color="#3a3aff" />}
    </g>
  );
};

const BottomTick = (p: any) => {
  const v = p.payload.value;
  return (
    <g>
      <line x1={p.x} x2={p.x} y1={p.y} y2={p.y - 3.5} stroke="#000" />
      {v % 200 === 0 && (
        <text x={p.x} y={p.y + 13} textAnchor="middle" fontSize={9.5} fill="#222" fontFamily={FONT}>{v}</text>
      )}
    </g>
  );
};

const TopTick = (p: any) => (
  <line x1={p.x} x2={p.x} y1={p.y} y2={p.y + 3.5} stroke="#000" />
);

const dot = (color: string, s: number) => (p: any) => (
  <rect x={p.cx - s / 2} y={p.cy - s / 2} width={s} height={s} fill={color} />
);

interface PanelProps {
  left: number; top: number; width: number; height: number;
  plot: { l: number; r: number; t: number; b: number };
  xTicks: number[];
  lDomain: [number, number];
  rDomain: [number, number];
  blackNoise: Pt[]; blackCurves: Pt[][]; blackWidth: number;
  redNoise: Pt[]; redCurve: Pt[];
  blue: Pt[];
  title: string; titleX: number; titleY: number;
  letter: string; letterX: number; letterY: number;
  yLabelX: number; rLabelX: number; labelY: number;
  xLabelX: number; xLabelY: number;
}

function Panel(pp: PanelProps) {
  const { plot, width, height, xTicks } = pp;
  const xDomain: [number, number] = [xTicks[0], xTicks[xTicks.length - 1]];
  const vLabel = (x: number, color: string) => (
    <div style={{
      position: 'absolute', left: x, top: pp.labelY, transform: 'translate(-50%,-50%) rotate(-90deg)',
      whiteSpace: 'nowrap', fontSize: 10.5, color,
    }}>Intensity (a.u.)</div>
  );
  return (
    <div style={{ position: 'absolute', left: pp.left, top: pp.top, width, height }}>
      <ScatterChart width={width} height={height} margin={{ top: plot.t, right: 0, bottom: 0, left: 0 }}>
        <XAxis type="number" dataKey="x" domain={xDomain} ticks={xTicks} interval={0} allowDataOverflow
          height={height - plot.b} tickSize={0} tickMargin={0} tickLine={false} tick={BottomTick}
          axisLine={{ stroke: '#000' }} />
        <XAxis xAxisId="top" orientation="top" type="number" domain={xDomain} ticks={xTicks} interval={0}
          allowDataOverflow height={0} tickSize={0} tickMargin={0} tickLine={false} tick={TopTick}
          axisLine={{ stroke: '#000' }} />
        <YAxis yAxisId="L" type="number" dataKey="y" scale="log" domain={pp.lDomain} allowDataOverflow
          ticks={logTicks(pp.lDomain[0], pp.lDomain[1])} interval={0} width={plot.l} tickSize={0} tickMargin={0}
          tickLine={false} tick={LeftTick} axisLine={{ stroke: '#000' }} />
        <YAxis yAxisId="R" orientation="right" type="number" dataKey="y" scale="log" domain={pp.rDomain}
          allowDataOverflow ticks={logTicks(pp.rDomain[0], pp.rDomain[1])} interval={0} width={width - plot.r}
          tickSize={0} tickMargin={0} tickLine={false} tick={RightTick} axisLine={{ stroke: BLUE_AXIS }} />
        <Scatter yAxisId="L" data={toXY(pp.blackNoise)} shape={dot('#000', 2)} isAnimationActive={false} />
        {pp.blackCurves.map((c, i) => (
          <Scatter key={i} yAxisId="L" data={toXY(c)} shape={dot('#000', 2)} isAnimationActive={false}
            line={{ stroke: '#000', strokeWidth: pp.blackWidth }} lineType="joint" />
        ))}
        <Scatter yAxisId="L" data={toXY(pp.redNoise)} shape={dot('#ff0000', 2)} isAnimationActive={false} />
        <Scatter yAxisId="L" data={toXY(pp.redCurve)} shape={dot('#ff0000', 2)} isAnimationActive={false}
          line={{ stroke: '#ff0000', strokeWidth: 3 }} lineType="joint" />
        <Scatter yAxisId="R" data={toXY(pp.blue)} shape={dot(BLUE, 1.8)} isAnimationActive={false} />
      </ScatterChart>
      <div style={{ position: 'absolute', left: pp.titleX, top: pp.titleY, transform: 'translate(-50%,-50%)', whiteSpace: 'nowrap', fontSize: 11, color: '#222' }}>{pp.title}</div>
      <div style={{ position: 'absolute', left: pp.letterX, top: pp.letterY, fontSize: 18, lineHeight: 1, color: '#111' }}>{pp.letter}</div>
      {vLabel(pp.yLabelX, '#222')}
      {vLabel(pp.rLabelX, '#4444ff')}
      <div style={{ position: 'absolute', left: pp.xLabelX, top: pp.xLabelY, transform: 'translate(-50%,-50%)', whiteSpace: 'nowrap', fontSize: 10.5, color: '#222' }}>Wavelength (nm)</div>
    </div>
  );
}

export default function App() {
  return (
    <div style={{ position: 'absolute', left: 0, top: 0, width: 685, height: 542, background: '#fff', fontFamily: FONT, overflow: 'hidden' }}>
      <Panel left={0} top={0} width={340} height={270} plot={{ l: 33, r: 293, t: 17, b: 227 }} xTicks={xTicksShort}
        lDomain={[1e-6, 10]} rDomain={[0.043, 1.92]}
        blackNoise={aBlackNoise} blackCurves={[aBlackCurve, aBlackRise]} blackWidth={3}
        redNoise={aRedNoise} redCurve={aRedCurve} blue={aBlue}
        title={titles[0]} titleX={163} titleY={6} letter="(a)" letterX={42} letterY={26}
        yLabelX={6} rLabelX={325} labelY={121} xLabelX={165} xLabelY={255} />
      <Panel left={340} top={0} width={345} height={270} plot={{ l: 49, r: 307, t: 25, b: 227 }} xTicks={xTicksLong}
        lDomain={[1e-5, 1.28]} rDomain={[0.06, 4.3]}
        blackNoise={bBlackNoise} blackCurves={[bBlackCurve]} blackWidth={3.5}
        redNoise={bRedNoise} redCurve={bRedCurve} blue={bBlue}
        title={titles[1]} titleX={175} titleY={6} letter="(b)" letterX={55} letterY={26}
        yLabelX={8} rLabelX={338} labelY={126} xLabelX={167} xLabelY={255} />
      <Panel left={0} top={270} width={340} height={272} plot={{ l: 34, r: 294, t: 28, b: 237 }} xTicks={xTicksLong}
        lDomain={[1e-5, 4.8]} rDomain={[0.1, 10]}
        blackNoise={cBlackNoise} blackCurves={[cBlackCurve]} blackWidth={4}
        redNoise={cRedNoise} redCurve={cRedCurve} blue={cBlue}
        title={titles[2]} titleX={164} titleY={15} letter="(c)" letterX={42} letterY={38}
        yLabelX={6} rLabelX={325} labelY={135} xLabelX={165} xLabelY={265} />
      <Panel left={340} top={270} width={345} height={272} plot={{ l: 49, r: 307, t: 28, b: 237 }} xTicks={xTicksLong}
        lDomain={[1e-5, 10]} rDomain={[0.1, 2.0]}
        blackNoise={dBlackNoise} blackCurves={[dBlackCurve]} blackWidth={2.5}
        redNoise={dRedNoise} redCurve={dRedCurve} blue={dBlue}
        title={titles[3]} titleX={177} titleY={15} letter="(d)" letterX={55} letterY={40}
        yLabelX={8} rLabelX={338} labelY={140} xLabelX={167} xLabelY={265} />
    </div>
  );
}
